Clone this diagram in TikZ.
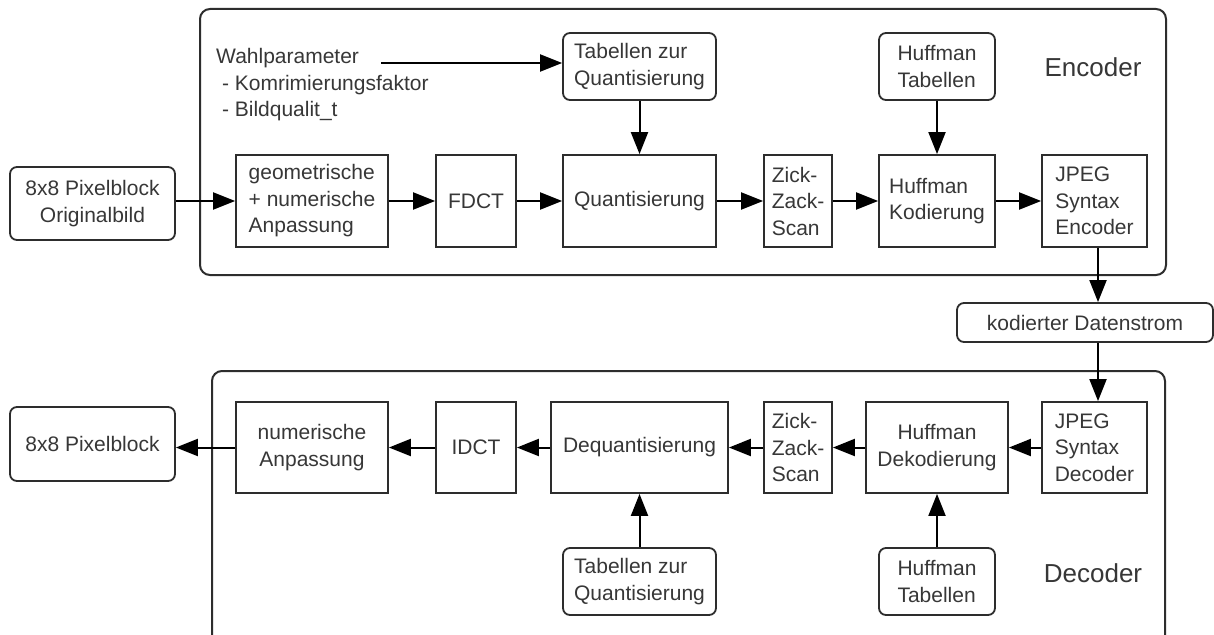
\documentclass[tikz,border=0pt]{standalone}
\usepackage{fontspec}
\setmainfont{Liberation Sans}
\usetikzlibrary{arrows.meta}
\definecolor{ink}{RGB}{55,55,55}
\definecolor{edge}{RGB}{45,45,45}
\begin{document}
\begin{tikzpicture}[x=1pt,y=-1pt,
  every node/.style={font=\fontsize{21pt}{26.5pt}\selectfont, text=ink},
  blk/.style={draw=edge, line width=1.8pt, rectangle, inner sep=0pt, align=left},
  rblk/.style={blk, rounded corners=7pt},
  frame/.style={draw=edge, line width=2pt, rounded corners=10pt},
  flow/.style={draw=black, line width=2pt, -{Triangle[length=22pt,width=17pt]}},
  big/.style={font=\fontsize{26pt}{30pt}\selectfont}
]
\clip (0,0) rectangle (1214,634);
\fill[white] (0,0) rectangle (1214,634);

% ---------- encoder ----------
\draw[frame] (200,9) rectangle (1166,275);
\node[big] (enclab) at (1093,67) {Encoder};

\node[anchor=west, inner sep=0pt, align=left] (wahl) at (216,85)
  {Wahlparameter\\ \ - Komrimierungsfaktor\\ \ - Bildqualit\_t};
\coordinate (wa) at (381,63);

\node[rblk, minimum width=165pt, minimum height=73pt, align=center] (src) at (92.5,203.5) {8x8 Pixelblock\\Originalbild};
\node[blk, minimum width=152pt, minimum height=92pt] (geo) at (312,201) {geometrische\\+ numerische\\Anpassung};
\node[blk, minimum width=80pt, minimum height=92pt] (fdct) at (476,201) {FDCT};
\node[blk, minimum width=153pt, minimum height=92pt] (quant) at (639.5,201) {Quantisierung};
\node[blk, minimum width=68pt, minimum height=92pt] (zz1) at (798,201) {Zick-\\Zack-\\Scan};
\node[blk, minimum width=116pt, minimum height=92pt] (hk) at (937,201) {Huffman\\Kodierung};
\node[blk, minimum width=105pt, minimum height=92pt] (jenc) at (1094.5,201) {JPEG\\Syntax\\Encoder};
\node[rblk, minimum width=153pt, minimum height=67pt] (tq1) at (639.5,66.5) {Tabellen zur\\Quantisierung};
\node[rblk, minimum width=116pt, minimum height=67pt] (ht1) at (937,66.5) {Huffman\\Tabellen};

\draw[flow] (wa) -- (wa -| tq1.west);
\draw[flow] (src.east |- geo.west) -- (geo.west);
\draw[flow] (geo) -- (fdct);
\draw[flow] (fdct) -- (quant);
\draw[flow] (quant) -- (zz1);
\draw[flow] (zz1) -- (hk);
\draw[flow] (hk) -- (jenc);
\draw[flow] (tq1) -- (quant);
\draw[flow] (ht1) -- (hk);

% ---------- coded stream ----------
\node[rblk, minimum width=256pt, minimum height=39pt, align=center] (kod) at (1085,322.5) {kodierter Datenstrom};
\draw[flow] ([xshift=3.5pt]jenc.south) -- ([xshift=3.5pt]jenc.south |- kod.north);

% ---------- decoder ----------
\draw[frame] (212,371) rectangle (1165,680);
\node[big] (declab) at (1093,573) {Decoder};

\node[rblk, minimum width=165pt, minimum height=74pt, align=center] (px2) at (92.5,444) {8x8 Pixelblock};
\node[blk, minimum width=152pt, minimum height=91pt, align=center] (num) at (312,447.5) {numerische\\Anpassung};
\node[blk, minimum width=80pt, minimum height=91pt] (idct) at (476,447.5) {IDCT};
\node[blk, minimum width=177pt, minimum height=91pt] (deq) at (639.5,447.5) {Dequantisierung};
\node[blk, minimum width=68pt, minimum height=91pt] (zz2) at (798,447.5) {Zick-\\Zack-\\Scan};
\node[blk, minimum width=142pt, minimum height=91pt, align=center] (hd) at (937,447.5) {Huffman\\Dekodierung};
\node[blk, minimum width=105pt, minimum height=91pt] (jdec) at (1094.5,447.5) {JPEG\\Syntax\\Decoder};
\node[rblk, minimum width=153pt, minimum height=67pt] (tq2) at (639.5,581.5) {Tabellen zur\\Quantisierung};
\node[rblk, minimum width=116pt, minimum height=67pt] (ht2) at (937,581.5) {Huffman\\Tabellen};

\draw[flow] ([xshift=3.5pt]jdec.north |- kod.south) -- ([xshift=3.5pt]jdec.north);
\draw[flow] (jdec) -- (hd);
\draw[flow] (hd) -- (zz2);
\draw[flow] (zz2) -- (deq);
\draw[flow] (deq) -- (idct);
\draw[flow] (idct) -- (num);
\draw[flow] (num.west) -- (num.west -| px2.east);
\draw[flow] (tq2) -- (deq);
\draw[flow] (ht2) -- (hd);
\end{tikzpicture}
\end{document}
